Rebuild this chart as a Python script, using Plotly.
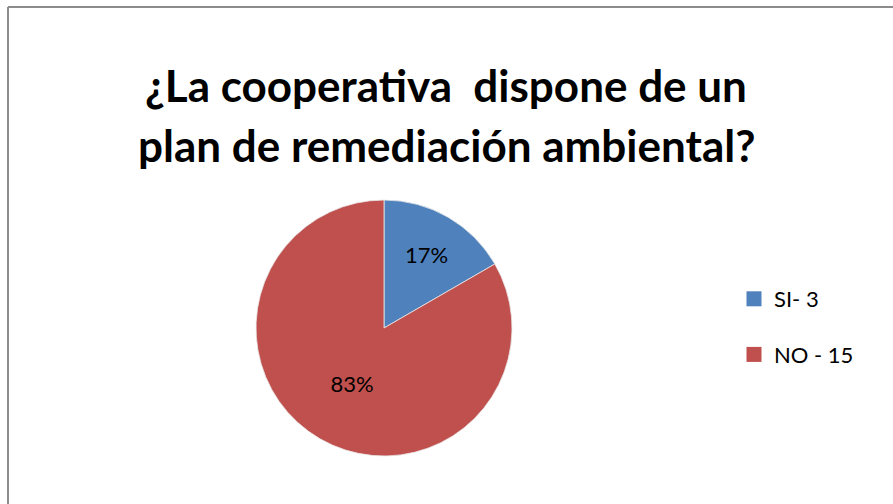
import plotly.graph_objects as go

labels = ["SI- 3", "NO - 15"]
values = [3, 15]
colors = ["#4F81BD", "#C0504D"]
title_lines = ["¿La cooperativa  dispone de un", "plan de remediación ambiental?"]

W, H = 893, 504
FONT = "Lato, 'Open Sans', sans-serif"

fig = go.Figure()
cx, cy, r = 384, 328, 128
fig.add_trace(go.Pie(
    labels=labels, values=values, sort=False, direction="clockwise", rotation=0,
    marker=dict(colors=colors, line=dict(color="#e8e8e8", width=0.8)),
    textinfo="percent", texttemplate="%{percent:.0%}", textposition="inside",
    insidetextorientation="horizontal",
    textfont=dict(family=FONT, size=22, color="#000000"),
    showlegend=False, hoverinfo="label+percent",
    domain=dict(x=[(cx - r) / W, (cx + r) / W], y=[1 - (cy + r) / H, 1 - (cy - r) / H]),
))
for lab, col in zip(labels, colors):
    fig.add_trace(go.Scatter(
        x=[None], y=[None], mode="markers", name=lab, legendgroup=lab,
        marker=dict(symbol="square", size=15, color=col),
    ))

for i, line in enumerate(title_lines):
    fig.add_annotation(
        text=f"<b>{line}</b>", x=446 / W, y=1 - (85 + 60 * i) / H,
        xref="paper", yref="paper", xanchor="center", yanchor="middle",
        showarrow=False, font=dict(family=FONT, size=44, color="#000000"),
    )

fig.add_shape(type="line", xref="paper", yref="paper", x0=8 / W, x1=1.02, y0=1 - 7 / H, y1=1 - 7 / H,
              line=dict(color="#8c8c8c", width=2))
fig.add_shape(type="line", xref="paper", yref="paper", x0=8 / W, x1=8 / W, y0=-0.02, y1=1 - 7 / H,
              line=dict(color="#8c8c8c", width=2))

fig.update_layout(
    width=W, height=H, margin=dict(l=0, r=0, t=0, b=0),
    paper_bgcolor="white", plot_bgcolor="white",
    xaxis=dict(visible=False), yaxis=dict(visible=False),
    legend=dict(x=734 / W, y=1 - 278 / H, xanchor="left", yanchor="top",
                tracegroupgap=24, font=dict(family=FONT, size=22, color="#000000"),
                itemwidth=30, bgcolor="rgba(0,0,0,0)"),
)
fig.write_html("out.html")
